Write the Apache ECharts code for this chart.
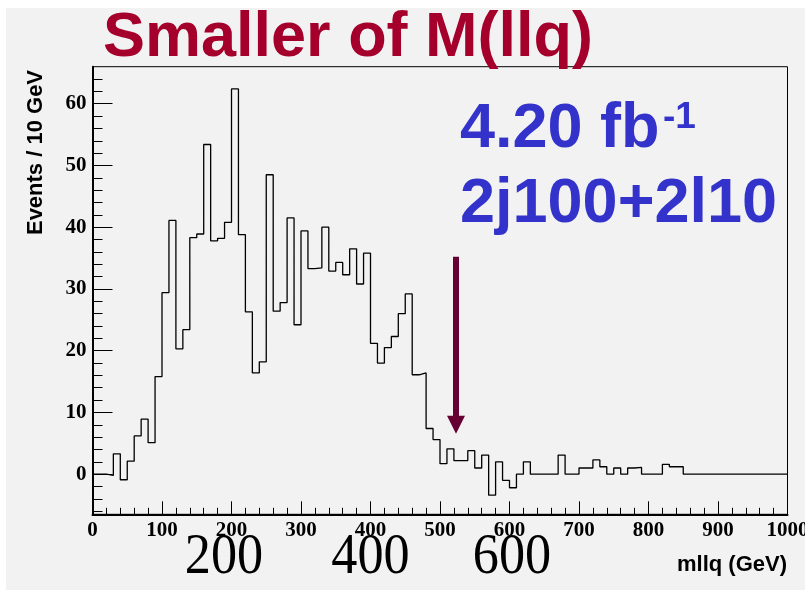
<!DOCTYPE html>
<html>
<head>
<meta charset="utf-8">
<script src="https://cdn.jsdelivr.net/npm/echarts@6/dist/echarts.min.js"></script>
<style>
  html, body { margin: 0; padding: 0; background: #ffffff; }
  #chart { width: 805px; height: 593px; }
</style>
</head>
<body>
<div id="chart"></div>
<script>
// Histogram of the smaller M(llq), 10 GeV bins from 0 to 1000 GeV
const binLow = 0;
const binWidth = 10;
const counts = [
  0, 0, -0.2, 3.3, -0.9, 2.1, 6.2, 8.9, 5.1, 15.8,
  29.4, 41.1, 20.3, 23.4, 38.3, 38.9, 53.4, 37.8, 38.2, 40.8,
  62.4, 38.8, 26.3, 16.4, 18.2, 48.5, 26.4, 27.8, 41.5, 24.2,
  39.4, 33.3, 33.4, 40.0, 32.9, 34.3, 32.3, 36.5, 30.8, 35.8,
  21.2, 18.0, 20.5, 22.3, 26.0, 29.2, 16.1, 16.4, 7.4, 5.6,
  1.7, 4.1, 2.2, 2.2, 3.8, 1.0, 3.1, -3.4, 2.0, -1.0,
  -2.2, 0.0, 2.0, 0, 0, 0, 0, 3.1, 0, 0,
  1.0, 1.0, 2.3, 1.2, 0, 1.0, 0, 1.0, 1.1, 0,
  0, 0, 1.6, 1.2, 1.2, 0, 0, 0, 0, 0,
  0, 0, 0, 0, 0, 0, 0, 0, 0, 0
];

// Axis ranges and tick values
const xRange = [0, 1000];
const xMajorStep = 100;
const yRange = [-6.5, 66];
const yMajorTicks = [0, 10, 20, 30, 40, 50, 60];
const yMinorTicks = [-6, -4, -2, 2, 4, 6, 8, 12, 14, 16, 18, 22, 24, 26, 28,
  32, 34, 36, 38, 42, 44, 46, 48, 52, 54, 56, 58, 62, 64];

// Cut position marked by the arrow (GeV) and its vertical extent (events)
const cutValue = 523;
const arrowFrom = 35.2;
const arrowTo = 8.0;

// Texts
const titleText = 'Smaller of M(llq)';
const lumiText = '4.20 fb';
const lumiExp = '-1';
const selText = '2j100+2l10';
const xTitle = 'mllq (GeV)';
const yTitle = 'Events / 10 GeV';
const bigLabels = ['200', '400', '600'];

// Step points: left edge of each bin, then the closing upper edge
const stepData = counts.map((v, i) => [binLow + i * binWidth, v]);
stepData.push([binLow + counts.length * binWidth, counts[counts.length - 1]]);

const chart = echarts.init(document.getElementById('chart'), null, { renderer: 'canvas' });

const sans = '"Liberation Sans", Arial, sans-serif';
const serif = '"Liberation Serif", "Times New Roman", serif';

const gridBox = { left: 92.5, top: 66.7, width: 695, height: 447.6 };

// Large condensed serif numbers under the axis
const bigLabelX = [224, 370.5, 512];
const bigTexts = bigLabels.map((t, i) => ({
  type: 'text', silent: true, x: bigLabelX[i], y: 558, scaleX: 0.9,
  style: { text: t, font: '58px ' + serif, fill: '#000', align: 'center', verticalAlign: 'middle' }
}));

const option = {
  animation: false,
  backgroundColor: '#ffffff',
  grid: {
    left: gridBox.left, top: gridBox.top, width: gridBox.width, height: gridBox.height,
    containLabel: false, outerBoundsMode: 'none',
    show: true, borderColor: '#000000', borderWidth: 1, backgroundColor: 'transparent'
  },
  xAxis: {
    type: 'value', min: xRange[0], max: xRange[1], interval: xMajorStep,
    axisLine: { show: true, onZero: false, lineStyle: { color: '#000', width: 2 } },
    axisTick: { show: true, inside: true, length: 13, lineStyle: { color: '#000', width: 1 } },
    minorTick: { show: true, splitNumber: 5, length: 6.5, lineStyle: { color: '#000', width: 1 } },
    axisLabel: {
      margin: 6, color: '#000', fontFamily: serif, fontWeight: 'bold', fontSize: 21,
      hideOverlap: false, formatter: (v) => String(v)
    },
    splitLine: { show: false }
  },
  yAxis: [
    {
      type: 'value', min: yRange[0], max: yRange[1], position: 'left',
      axisLine: { show: true, onZero: false, lineStyle: { color: '#000', width: 2 } },
      axisTick: { show: true, inside: true, length: 20, customValues: yMajorTicks, lineStyle: { color: '#000', width: 1 } },
      axisLabel: { customValues: yMajorTicks, margin: 6, color: '#000', fontFamily: serif, fontWeight: 'bold', fontSize: 21 },
      splitLine: { show: false }
    },
    {
      type: 'value', min: yRange[0], max: yRange[1], position: 'left', offset: 0,
      axisLine: { show: false },
      axisTick: { show: true, inside: true, length: 10, customValues: yMinorTicks, lineStyle: { color: '#000', width: 1 } },
      axisLabel: { show: false },
      splitLine: { show: false }
    }
  ],
  series: [
    {
      type: 'line', step: 'end', data: stepData, yAxisIndex: 0,
      symbol: 'none', silent: true,
      lineStyle: { color: '#000000', width: 1.3 },
      markLine: {
        silent: true, animation: false,
        symbol: ['none', 'triangle'], symbolSize: [18, 18],
        label: { show: false },
        lineStyle: { color: '#660033', width: 6, type: 'solid' },
        data: [[{ coord: [cutValue, arrowFrom] }, { coord: [cutValue, arrowTo] }]]
      }
    }
  ],
  graphic: [
    {
      type: 'rect', z: -10, silent: true,
      shape: { x: 6, y: 8, width: 805, height: 582 },
      style: { fill: '#f2f2f2' }
    },
    {
      type: 'text', silent: true, x: 103, y: 38.5,
      style: { text: titleText, font: 'bold 63px ' + sans, fill: '#a4002b', align: 'left', verticalAlign: 'middle' }
    },
    {
      type: 'text', silent: true, x: 460, y: 130,
      style: { text: lumiText, font: 'bold 63px ' + sans, fill: '#3333cc', align: 'left', verticalAlign: 'middle' }
    },
    {
      type: 'text', silent: true, x: 663, y: 118,
      style: { text: lumiExp, font: 'bold 37px ' + sans, fill: '#3333cc', align: 'left', verticalAlign: 'middle' }
    },
    {
      type: 'text', silent: true, x: 460, y: 205,
      style: { text: selText, font: 'bold 63px ' + sans, fill: '#3333cc', align: 'left', verticalAlign: 'middle' }
    },
    {
      type: 'text', silent: true, x: 787, y: 565,
      style: { text: xTitle, font: 'bold 22px ' + sans, fill: '#000', align: 'right', verticalAlign: 'middle' }
    },
    {
      type: 'text', silent: true, x: 36, y: 152.5, rotation: Math.PI / 2,
      style: { text: yTitle, font: 'bold 22px ' + sans, fill: '#000', align: 'center', verticalAlign: 'middle' }
    }
  ].concat(bigTexts)
};

chart.setOption(option);
</script>
</body>
</html>
